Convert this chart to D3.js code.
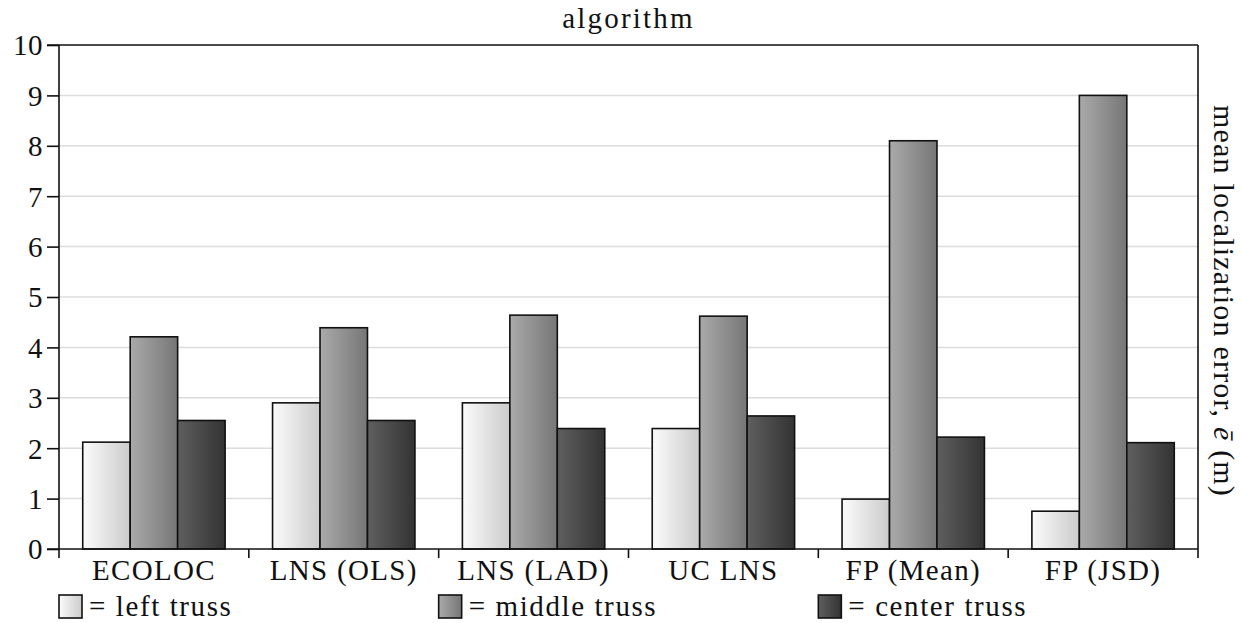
<!DOCTYPE html>
<html>
<head>
<meta charset="utf-8">
<script src="https://cdn.jsdelivr.net/npm/d3@7"></script>
<style>
  html, body { margin: 0; padding: 0; background: #fff; }
  .cm { font-family: 'Liberation Serif'; letter-spacing: 1.3px; }
</style>
</head>
<body>
<svg id="chart" width="1242" height="623"></svg>
<script>
// Mean localization error (m) per algorithm and truss
const algorithms = ["ECOLOC", "LNS (OLS)", "LNS (LAD)", "UC LNS", "FP (Mean)", "FP (JSD)"];
const series = ["left truss", "middle truss", "center truss"];
const leftTruss   = [2.12, 2.90, 2.90, 2.39, 0.99, 0.75];
const middleTruss = [4.21, 4.39, 4.64, 4.62, 8.10, 9.00];
const centerTruss = [2.55, 2.55, 2.39, 2.64, 2.22, 2.11];
const yTicks = [0, 1, 2, 3, 4, 5, 6, 7, 8, 9, 10];

const values = [leftTruss, middleTruss, centerTruss];
const gradients = [["#fbfbfb", "#cbcbcb"], ["#aaaaaa", "#767676"], ["#5f5f5f", "#333333"]];

const FS = 29;
const ink = "#111";

const svg = d3.select("#chart");
const margin = { left: 59, right: 44, top: 45, bottom: 74 };
const W = 1242, H = 623;
const x0 = margin.left, x1 = W - margin.right;
const yTop = margin.top, yBot = H - margin.bottom;

const x = d3.scaleBand().domain(algorithms).range([x0, x1]).paddingInner(0).paddingOuter(0);
const y = d3.scaleLinear().domain([0, 10]).range([yBot, yTop]);

// horizontal gradient fills, one per truss
const defs = svg.append("defs");
gradients.forEach((g, i) => {
  const lg = defs.append("linearGradient").attr("id", "grad" + i)
    .attr("x1", "0%").attr("x2", "100%").attr("y1", "0%").attr("y2", "0%");
  lg.append("stop").attr("offset", "0%").attr("stop-color", g[0]);
  lg.append("stop").attr("offset", "100%").attr("stop-color", g[1]);
});

// grid lines
svg.append("g").selectAll("line").data(yTicks.filter(d => d > 0 && d < 10)).join("line")
  .attr("x1", x0).attr("x2", x1)
  .attr("y1", d => y(d)).attr("y2", d => y(d))
  .attr("stroke", "#dcdcdc").attr("stroke-width", 1.5);

// grouped bars: groups fill 75% of each band
const gw = x.bandwidth() * 0.75;
const bw = gw / 3;
const gpad = (x.bandwidth() - gw) / 2;
series.forEach((s, si) => {
  svg.append("g").selectAll("rect").data(algorithms).join("rect")
    .attr("x", d => x(d) + gpad + si * bw)
    .attr("y", (d, i) => y(values[si][i]))
    .attr("width", bw)
    .attr("height", (d, i) => y(0) - y(values[si][i]))
    .attr("fill", `url(#grad${si})`)
    .attr("stroke", ink).attr("stroke-width", 1.6);
});

// frame: left, right, top and baseline
const frame = svg.append("g").attr("stroke", ink).attr("stroke-width", 1.6).attr("fill", "none");
frame.append("line").attr("x1", x0).attr("x2", x0).attr("y1", yTop).attr("y2", yBot + 9);
frame.append("line").attr("x1", x1).attr("x2", x1).attr("y1", yTop).attr("y2", yBot + 9);
frame.append("line").attr("x1", x0 - 12).attr("x2", x1).attr("y1", yTop).attr("y2", yTop);
frame.append("line").attr("x1", x0 - 12).attr("x2", x1).attr("y1", yBot).attr("y2", yBot);

// left axis
const yAxis = svg.append("g").attr("transform", `translate(${x0},0)`)
  .call(d3.axisLeft(y).tickValues(yTicks).tickSize(12).tickPadding(4).tickFormat(d3.format("d")));
yAxis.select(".domain").remove();
yAxis.attr("font-family", null).attr("font-size", null);
yAxis.selectAll("line").attr("stroke", ink).attr("stroke-width", 1.6);
yAxis.selectAll("text").attr("class", "cm").attr("font-size", FS).attr("fill", ink)
  .attr("dy", "0.34em").style("letter-spacing", "0.5px");

// bottom axis: dividers between categories and category names
const dividers = algorithms.slice(1).map(a => x(a));
svg.append("g").selectAll("line").data(dividers).join("line")
  .attr("x1", d => d).attr("x2", d => d)
  .attr("y1", yBot).attr("y2", yBot + 9)
  .attr("stroke", ink).attr("stroke-width", 1.6);
svg.append("g").selectAll("text").data(algorithms).join("text")
  .attr("class", "cm")
  .attr("x", d => x(d) + x.bandwidth() / 2)
  .attr("y", yBot + 31)
  .attr("text-anchor", "middle")
  .attr("font-size", FS).attr("fill", ink)
  .text(d => d);

// title
svg.append("text").attr("class", "cm")
  .attr("x", (x0 + x1) / 2).attr("y", 28)
  .attr("text-anchor", "middle").attr("font-size", FS).attr("fill", ink)
  .style("letter-spacing", "2.2px")
  .text("algorithm");

// right-side axis title
const yt = svg.append("text").attr("class", "cm")
  .attr("transform", `translate(${x1 + 16},${(yTop + yBot) / 2 + 4}) rotate(90)`)
  .attr("text-anchor", "middle").attr("font-size", FS + 1).attr("fill", ink)
  .style("letter-spacing", "1.2px");
yt.append("tspan").text("mean localization error, ");
yt.append("tspan").attr("font-style", "italic").text("ē");
yt.append("tspan").text(" (m)");

// legend
const legX = [x(algorithms[0]), x(algorithms[2]), x(algorithms[4])];
series.forEach((s, si) => {
  const g = svg.append("g").attr("transform", `translate(${legX[si]},595)`);
  g.append("rect").attr("width", 23).attr("height", 23)
    .attr("fill", `url(#grad${si})`).attr("stroke", ink).attr("stroke-width", 1.6);
  g.append("text").attr("class", "cm").attr("x", 30).attr("y", 21)
    .attr("font-size", FS).attr("fill", ink)
    .style("letter-spacing", "1.6px")
    .text("= " + s);
});
</script>
</body>
</html>
